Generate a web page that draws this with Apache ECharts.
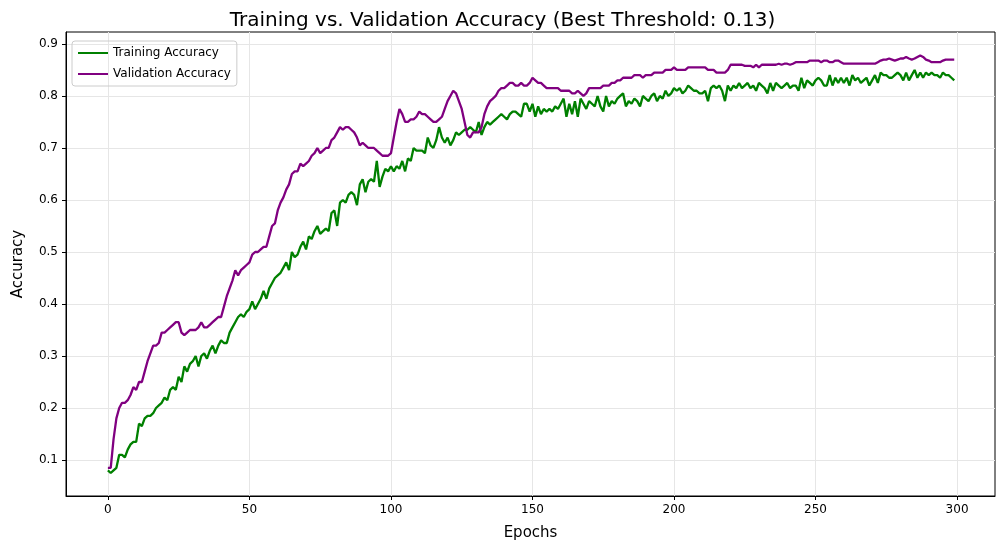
<!DOCTYPE html>
<html>
<head>
    <meta charset="utf-8">
    <title>Training vs. Validation Accuracy</title>
    <script src="https://cdn.jsdelivr.net/npm/echarts@6/dist/echarts.min.js"></script>
</head>
<body style="margin:0;background:#fff;">
<div id="chart" style="width:1005px;height:553px;"></div>
<script type="text/javascript">
    // 训练准确率（每个 epoch 一个值）
    var trainAcc = [
        0.08,0.075,0.08,0.085,0.11,0.11,0.105,0.12,0.13,0.135,
        0.135,0.17,0.165,0.18,0.185,0.185,0.19,0.20,0.205,0.21,
        0.22,0.215,0.235,0.24,0.235,0.26,0.25,0.28,0.27,0.285,
        0.29,0.30,0.28,0.30,0.305,0.295,0.31,0.32,0.305,0.32,
        0.33,0.325,0.325,0.345,0.355,0.365,0.375,0.38,0.375,0.385,
        0.39,0.405,0.39,0.40,0.41,0.425,0.41,0.43,0.44,0.45,
        0.455,0.46,0.47,0.48,0.465,0.50,0.49,0.495,0.51,0.52,
        0.505,0.53,0.525,0.54,0.55,0.535,0.54,0.545,0.54,0.575,
        0.58,0.55,0.595,0.60,0.595,0.61,0.615,0.61,0.59,0.63,
        0.64,0.615,0.635,0.64,0.635,0.675,0.625,0.645,0.66,0.655,
        0.665,0.655,0.665,0.66,0.675,0.655,0.68,0.675,0.70,0.695,
        0.695,0.695,0.69,0.72,0.705,0.70,0.715,0.74,0.72,0.71,
        0.72,0.705,0.715,0.73,0.725,0.73,0.735,0.735,0.74,0.735,
        0.73,0.75,0.725,0.74,0.75,0.745,0.75,0.755,0.76,0.765,
        0.76,0.755,0.765,0.77,0.77,0.765,0.76,0.785,0.785,0.77,
        0.785,0.76,0.78,0.765,0.775,0.77,0.775,0.77,0.78,0.775,
        0.785,0.795,0.76,0.785,0.765,0.79,0.76,0.795,0.785,0.775,
        0.79,0.785,0.78,0.80,0.78,0.77,0.80,0.78,0.79,0.785,
        0.795,0.80,0.805,0.78,0.79,0.785,0.795,0.79,0.78,0.80,
        0.795,0.79,0.80,0.805,0.79,0.80,0.795,0.81,0.80,0.805,
        0.815,0.81,0.815,0.805,0.81,0.82,0.815,0.81,0.81,0.805,
        0.805,0.81,0.79,0.815,0.82,0.815,0.82,0.81,0.79,0.82,
        0.81,0.82,0.815,0.825,0.815,0.82,0.825,0.815,0.82,0.81,
        0.825,0.82,0.815,0.805,0.825,0.81,0.825,0.82,0.815,0.82,
        0.825,0.815,0.82,0.82,0.81,0.835,0.815,0.83,0.825,0.82,
        0.83,0.835,0.83,0.82,0.82,0.84,0.82,0.835,0.825,0.835,
        0.825,0.835,0.82,0.84,0.83,0.835,0.825,0.83,0.835,0.82,
        0.83,0.84,0.825,0.845,0.84,0.84,0.835,0.835,0.84,0.845,
        0.84,0.83,0.845,0.83,0.84,0.85,0.835,0.845,0.835,0.845,
        0.84,0.845,0.84,0.84,0.835,0.845,0.84,0.84,0.835,0.83
    ];
    // 验证准确率
    var valAcc = [
        0.085,0.085,0.14,0.18,0.20,0.21,0.21,0.215,0.225,0.24,
        0.235,0.25,0.25,0.27,0.29,0.305,0.32,0.32,0.325,0.345,
        0.345,0.35,0.355,0.36,0.365,0.365,0.345,0.34,0.345,0.35,
        0.35,0.35,0.355,0.365,0.355,0.355,0.36,0.365,0.37,0.375,
        0.375,0.395,0.415,0.43,0.445,0.465,0.455,0.465,0.47,0.475,
        0.48,0.495,0.50,0.50,0.505,0.51,0.51,0.53,0.55,0.555,
        0.58,0.595,0.605,0.62,0.63,0.65,0.655,0.655,0.67,0.665,
        0.67,0.675,0.685,0.69,0.70,0.69,0.695,0.70,0.70,0.715,
        0.72,0.73,0.74,0.735,0.74,0.74,0.735,0.73,0.72,0.705,
        0.71,0.705,0.70,0.70,0.70,0.695,0.69,0.685,0.685,0.685,
        0.69,0.72,0.75,0.775,0.765,0.75,0.75,0.755,0.755,0.76,
        0.77,0.765,0.765,0.76,0.755,0.75,0.75,0.755,0.76,0.775,
        0.79,0.80,0.81,0.805,0.79,0.775,0.75,0.725,0.72,0.73,
        0.73,0.73,0.74,0.765,0.78,0.79,0.795,0.80,0.81,0.815,
        0.815,0.82,0.825,0.825,0.82,0.82,0.825,0.82,0.82,0.825,
        0.835,0.83,0.825,0.825,0.82,0.815,0.815,0.815,0.815,0.815,
        0.81,0.81,0.81,0.81,0.805,0.805,0.81,0.805,0.80,0.805,
        0.815,0.815,0.815,0.815,0.815,0.82,0.82,0.82,0.825,0.825,
        0.83,0.83,0.835,0.835,0.835,0.835,0.84,0.84,0.84,0.835,
        0.84,0.84,0.84,0.845,0.845,0.845,0.845,0.85,0.85,0.85,
        0.855,0.85,0.85,0.85,0.85,0.855,0.855,0.855,0.855,0.855,
        0.855,0.855,0.85,0.85,0.85,0.845,0.845,0.845,0.845,0.85,
        0.86,0.86,0.86,0.86,0.86,0.858,0.858,0.858,0.855,0.86,
        0.855,0.86,0.86,0.86,0.86,0.86,0.86,0.862,0.86,0.862,
        0.862,0.86,0.862,0.865,0.865,0.865,0.865,0.865,0.868,0.868,
        0.868,0.868,0.865,0.868,0.868,0.865,0.865,0.868,0.868,0.865,
        0.862,0.862,0.862,0.862,0.862,0.862,0.862,0.862,0.862,0.862,
        0.862,0.862,0.865,0.868,0.87,0.87,0.872,0.87,0.868,0.87,
        0.872,0.872,0.875,0.872,0.87,0.872,0.875,0.878,0.875,0.87,
        0.868,0.865,0.865,0.865,0.865,0.868,0.87,0.87,0.87,0.87
    ];
    var xTicks = [0, 50, 100, 150, 200, 250, 300];
    var yTicks = [0.1, 0.2, 0.3, 0.4, 0.5, 0.6, 0.7, 0.8, 0.9];

    function toPairs(arr) {
        return arr.map(function (v, i) { return [i, v]; });
    }

    var myChart = echarts.init(document.getElementById('chart'));
    var axisFont = {fontFamily: 'DejaVu Sans', fontSize: 12, color: '#000'};
    myChart.setOption({
        animation: false,
        textStyle: {fontFamily: 'DejaVu Sans'},
        title: {
            text: 'Training vs. Validation Accuracy (Best Threshold: 0.13)',
            left: 'center', top: 6,
            textStyle: {fontSize: 20, fontWeight: 'normal', color: '#000', fontFamily: 'DejaVu Sans'}
        },
        legend: {
            orient: 'vertical', left: 72, top: 41,
            itemWidth: 30, itemHeight: 2, itemGap: 9,
            padding: [6, 6], borderColor: '#ccc', borderWidth: 1, borderRadius: 3,
            icon: 'rect',
            textStyle: {fontSize: 12, color: '#000'},
            data: ['Training Accuracy', 'Validation Accuracy']
        },
        grid: {left: 66, right: 10, top: 32, bottom: 57, show: true, borderColor: '#000', borderWidth: 1},
        xAxis: {
            type: 'value', min: -14.8, max: 313.4,
            name: 'Epochs', nameLocation: 'middle', nameGap: 30,
            nameTextStyle: {fontSize: 15, color: '#000'},
            axisLine: {onZero: false, lineStyle: {color: '#000'}},
            axisTick: {show: true, inside: false, customValues: xTicks, length: 4, lineStyle: {color: '#000'}},
            axisLabel: Object.assign({customValues: xTicks, margin: 8}, axisFont),
            splitLine: {show: true, lineStyle: {color: '#e6e6e6'}}
        },
        yAxis: {
            type: 'value', min: 0.0308, max: 0.923,
            name: 'Accuracy', nameLocation: 'middle', nameGap: 40,
            nameTextStyle: {fontSize: 15, color: '#000'},
            axisLine: {show: true, onZero: false, lineStyle: {color: '#000'}},
            axisTick: {show: true, inside: false, customValues: yTicks, length: 4, lineStyle: {color: '#000'}},
            axisLabel: Object.assign({customValues: yTicks, margin: 8, formatter: function (v) { return v.toFixed(1); }}, axisFont),
            splitLine: {show: true, lineStyle: {color: '#e6e6e6'}}
        },
        series: [
            {
                name: 'Training Accuracy', type: 'line', showSymbol: false,
                data: toPairs(trainAcc),
                itemStyle: {color: '#008000'},
                lineStyle: {color: '#008000', width: 2.3}
            },
            {
                name: 'Validation Accuracy', type: 'line', showSymbol: false,
                data: toPairs(valAcc),
                itemStyle: {color: '#800080'},
                lineStyle: {color: '#800080', width: 2.3}
            }
        ]
    });
</script>
</body>
</html>
